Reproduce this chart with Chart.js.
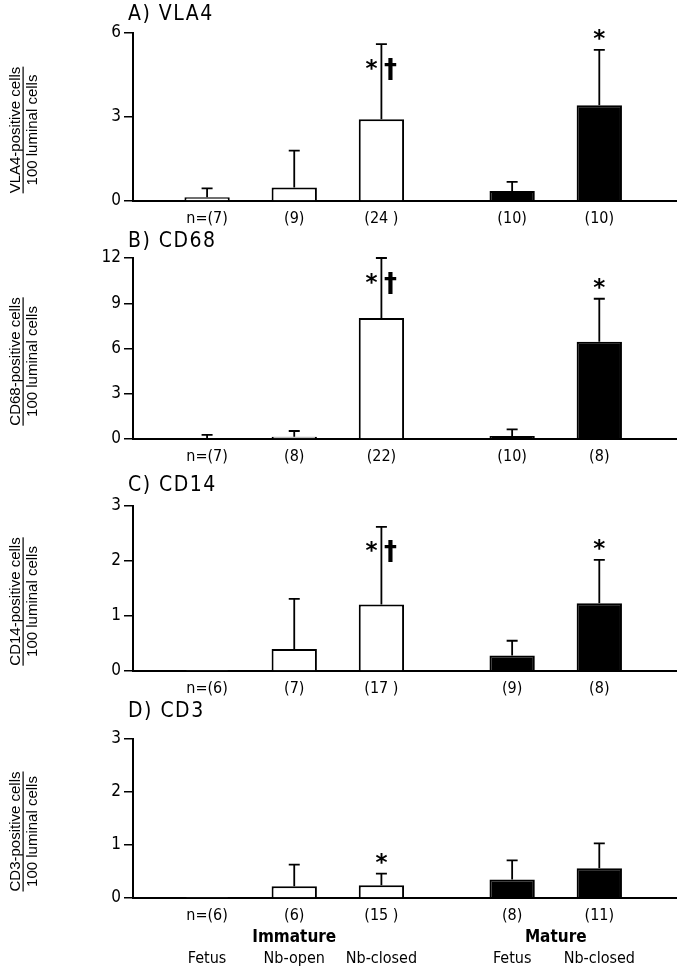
<!DOCTYPE html>
<html>
<head>
<meta charset="utf-8">
<script src="https://cdn.jsdelivr.net/npm/chart.js@4.4.1/dist/chart.umd.min.js"></script>
<style>
	html, body { margin: 0; padding: 0; background: #fff; }
	#wrap { position: relative; width: 685px; height: 973px; }
	canvas { position: absolute; left: 0; }
</style>
</head>
<body>
<div id="wrap">
	<canvas id="chartA" width="685" height="232" style="top:0px"></canvas>
	<canvas id="chartB" width="685" height="242" style="top:226px"></canvas>
	<canvas id="chartC" width="685" height="230" style="top:468px"></canvas>
	<canvas id="chartD" width="685" height="275" style="top:698px"></canvas>
</div>
<script>
// group positions on the x axis (gap between immature and mature groups)
const groupPos = [1, 2, 3, 4.5, 5.5];
const groupNames = ['Fetus', 'Nb-open', 'Nb-closed', 'Fetus', 'Nb-closed'];
const maturityNames = ['Immature', 'Mature'];
const maturityPos = [2, 5];
const barFill = ['#ffffff', '#ffffff', '#ffffff', '#000000', '#000000'];

// A) VLA4
const vla4Means = [0.13, 0.48, 2.92, 0.36, 3.42];
const vla4Upper = [0.45, 1.8, 5.6, 0.68, 5.4];
const vla4N = ['n=(7)', '(9)', '(24 )', '(10)', '(10)'];
const vla4Marks = ['', '', '*†', '', '*'];

// B) CD68
const cd68Means = [0.05, 0.15, 8.02, 0.2, 6.45];
const cd68Upper = [0.27, 0.53, 12.0, 0.64, 9.3];
const cd68N = ['n=(7)', '(8)', '(22)', '(10)', '(8)'];
const cd68Marks = ['', '', '*†', '', '*'];

// C) CD14
const cd14Means = [0.02, 0.4, 1.21, 0.28, 1.23];
const cd14Upper = [null, 1.31, 2.62, 0.55, 2.02];
const cd14N = ['n=(6)', '(7)', '(17 )', '(9)', '(8)'];
const cd14Marks = ['', '', '*†', '', '*'];

// D) CD3
const cd3Means = [0.02, 0.22, 0.24, 0.35, 0.56];
const cd3Upper = [null, 0.63, 0.46, 0.71, 1.03];
const cd3N = ['n=(6)', '(6)', '(15 )', '(8)', '(11)'];
const cd3Marks = ['', '', '*', '', ''];

const condensed = '"DejaVu Sans Condensed", "DejaVu Sans", sans-serif';
const tickFont = { family: condensed, size: 16, lineHeight: 1.35 };

function drawCentered(ctx, text, x, y)
{
	const m = ctx.measureText(text);
	ctx.fillText(text, x, y + (m.actualBoundingBoxAscent - m.actualBoundingBoxDescent) / 2);
}

function makeExtras(cfg)
{
	return {
		id: 'extras',
		afterDatasetsDraw(chart) {
			const ctx = chart.ctx;
			const yScale = chart.scales.y;
			const meta = chart.getDatasetMeta(0);
			ctx.save();
			ctx.strokeStyle = '#000';
			ctx.fillStyle = '#000';
			ctx.lineWidth = 1.8;
			meta.data.forEach((bar, i) => {
				const up = cfg.upper[i];
				let topY = bar.y;
				if (up != null)
				{
					topY = yScale.getPixelForValue(up);
					ctx.beginPath();
					ctx.moveTo(bar.x, bar.y);
					ctx.lineTo(bar.x, topY);
					ctx.moveTo(bar.x - 5.5, topY);
					ctx.lineTo(bar.x + 5.5, topY);
					ctx.stroke();
				}
				const mark = cfg.marks[i];
				ctx.textAlign = 'center';
				ctx.textBaseline = 'alphabetic';
				if (mark === '*')
				{
					ctx.font = 'bold 23px "DejaVu Sans", sans-serif';
					drawCentered(ctx, '*', bar.x, topY - 15);
				}
				else if (mark === '*†')
				{
					ctx.font = 'bold 23px "DejaVu Sans", sans-serif';
					drawCentered(ctx, '*', bar.x - 10, topY + 20);
					ctx.font = 'bold 26px "DejaVu Sans", sans-serif';
					drawCentered(ctx, '†', bar.x + 9, topY + 25);
				}
			});
			ctx.restore();
		},
		afterDraw(chart) {
			const ctx = chart.ctx;
			const area = chart.chartArea;
			ctx.save();
			ctx.fillStyle = '#000';

			// panel title
			ctx.font = '21px ' + condensed;
			ctx.letterSpacing = '1.5px';
			ctx.textAlign = 'left';
			ctx.textBaseline = 'middle';
			ctx.fillText(cfg.title, 128, cfg.titleY);
			ctx.letterSpacing = '0px';

			// y axis label as a fraction
			const cy = (area.top + area.bottom) / 2 + 13;
			ctx.save();
			ctx.translate(16, cy);
			ctx.rotate(-Math.PI / 2);
			ctx.font = '15px "Liberation Sans", Arial, sans-serif';
			ctx.textAlign = 'center';
			ctx.textBaseline = 'middle';
			ctx.fillText(cfg.yLabel, 0, 0);
			const w = ctx.measureText(cfg.yLabel).width;
			ctx.fillRect(-w / 2, 6.5, w, 1.2);
			ctx.fillText('100 luminal cells', 0, 17);
			ctx.restore();

			// Immature / Mature group captions
			if (cfg.groups)
			{
				const x = chart.scales.x;
				const lh = tickFont.size * tickFont.lineHeight;
				ctx.font = 'bold 17px ' + condensed;
				ctx.textAlign = 'center';
				ctx.textBaseline = 'middle';
				maturityNames.forEach((name, i) => {
					ctx.fillText(name, x.getPixelForValue(maturityPos[i]), area.bottom + 7 + lh * 1.5);
				});
			}
			ctx.restore();
		}
	};
}

function makePanel(id, cfg)
{
	const ctx = document.getElementById(id).getContext('2d');
	const xLabels = cfg.groups
		? cfg.nLabels.map((n, i) => [n, '', groupNames[i]])
		: cfg.nLabels;

	return new Chart(ctx, {
		type: 'bar',
		data: {
			datasets: [{
				data: cfg.means.map((v, i) => ({ x: groupPos[i], y: v })),
				backgroundColor: barFill,
				borderColor: '#000',
				borderWidth: 2,
				barPercentage: 0.52,
				categoryPercentage: 1
			}]
		},
		options: {
			responsive: false,
			animation: false,
			layout: { padding: { top: cfg.padTop, left: 73, right: 9, bottom: 0 } },
			plugins: {
				legend: { display: false },
				tooltip: { enabled: false }
			},
			scales: {
				x: {
					type: 'linear',
					min: 0.15,
					max: 6.38,
					offset: false,
					grid: { display: false, drawTicks: false, offset: false },
					border: { color: '#000', width: 2 },
					afterBuildTicks: (s) => { s.ticks = groupPos.map(v => ({ value: v })); },
					afterFit: (s) => { s.height = cfg.xHeight; },
					ticks: {
						autoSkip: false,
						maxRotation: 0,
						padding: 7,
						color: '#000',
						font: tickFont,
						callback: (v, i) => xLabels[i]
					}
				},
				y: {
					min: 0,
					max: cfg.yMax,
					afterFit: (s) => { s.width = 60; },
					grid: { drawOnChartArea: false, drawTicks: true, tickLength: 9, color: '#000', tickColor: '#000', lineWidth: 1.5 },
					border: { color: '#000', width: 2 },
					ticks: { stepSize: cfg.yStep, padding: 3, color: '#000', font: { family: condensed, size: 17 } }
				}
			}
		},
		plugins: [makeExtras(cfg)]
	});
}

makePanel('chartA', {
	title: 'A) VLA4', titleY: 15, yLabel: 'VLA4-positive cells',
	means: vla4Means, upper: vla4Upper, nLabels: vla4N, marks: vla4Marks,
	yMax: 6, yStep: 3, padTop: 33, xHeight: 31
});
makePanel('chartB', {
	title: 'B) CD68', titleY: 16, yLabel: 'CD68-positive cells',
	means: cd68Means, upper: cd68Upper, nLabels: cd68N, marks: cd68Marks,
	yMax: 12, yStep: 3, padTop: 32, xHeight: 29
});
makePanel('chartC', {
	title: 'C) CD14', titleY: 18, yLabel: 'CD14-positive cells',
	means: cd14Means, upper: cd14Upper, nLabels: cd14N, marks: cd14Marks,
	yMax: 3, yStep: 1, padTop: 38, xHeight: 27
});
makePanel('chartD', {
	title: 'D) CD3', titleY: 14, yLabel: 'CD3-positive cells',
	means: cd3Means, upper: cd3Upper, nLabels: cd3N, marks: cd3Marks,
	yMax: 3, yStep: 1, padTop: 41, xHeight: 75, groups: true
});
</script>
</body>
</html>
